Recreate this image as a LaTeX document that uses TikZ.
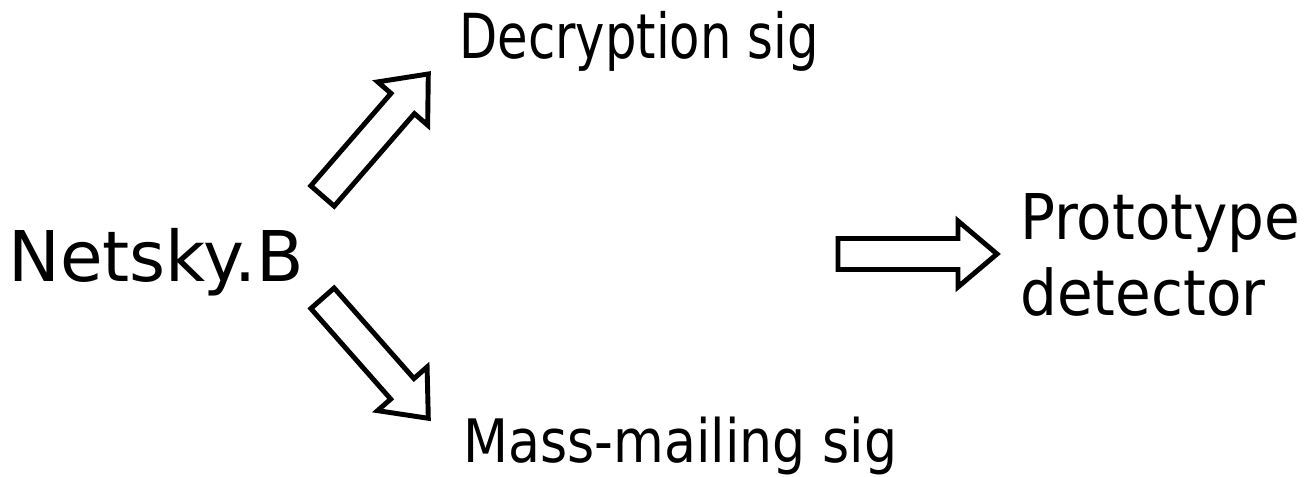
\documentclass[tikz,border=0pt]{standalone}
\usepackage{fontspec}
\setmainfont{DejaVu Sans}
\usepackage{tikz}
\usetikzlibrary{calc}

\tikzset{
  label text/.style={inner sep=0pt, anchor=base west},
  fat arrow/.style={draw=black, line width=2.8pt, fill=white, miter limit=10,
    to path={let \p1=(\tikztostart), \p2=(\tikztotarget),
      \n1={atan2(\y2-\y1,\x2-\x1)}, \n2={veclen(\x2-\x1,\y2-\y1)} in
      ($(\p1)+({\n1+90}:0.31cm)$)
      -- ($(\p1)+(\n1:{\n2-0.78cm})+({\n1+90}:0.31cm)$)
      -- ($(\p1)+(\n1:{\n2-0.78cm})+({\n1+90}:0.66cm)$)
      -- (\p2)
      -- ($(\p1)+(\n1:{\n2-0.78cm})+({\n1-90}:0.66cm)$)
      -- ($(\p1)+(\n1:{\n2-0.78cm})+({\n1-90}:0.31cm)$)
      -- ($(\p1)+({\n1-90}:0.31cm)$) -- cycle}},
}

\begin{document}
\begin{tikzpicture}
\useasboundingbox (0,0) rectangle (26.1,9.54);

\node[label text, font=\addfontfeatures{FakeStretch=0.99}\fontsize{39.8}{46}\selectfont] (netsky) at (0.16,3.9) {Netsky.B};
\node[label text, font=\addfontfeatures{FakeStretch=0.80}\fontsize{35.3}{43.8}\selectfont] (decrypt) at (9.18,8.36) {Decryption sig};
\node[label text, font=\addfontfeatures{FakeStretch=0.87}\fontsize{34.1}{43.8}\selectfont] (mass) at (9.26,0.28) {Mass-mailing sig};
\node[label text, align=left, font=\addfontfeatures{FakeStretch=0.92}\fontsize{35.9}{43.8}\selectfont] (proto) at (20.4,3.22) {Prototype\\detector};

\coordinate (dtail) at (6.45,5.62);
\coordinate (dtip) at (8.566,8.06);
\coordinate (mtail) at (6.45,3.574);
\coordinate (mtip) at (8.566,1.174);
\coordinate (ptail) at (16.76,4.46);
\coordinate (ptip) at (19.94,4.46);

\foreach \a/\b in {dtail/dtip,mtail/mtip,ptail/ptip}
  \draw[fat arrow] (\a) to (\b);
\end{tikzpicture}
\end{document}
